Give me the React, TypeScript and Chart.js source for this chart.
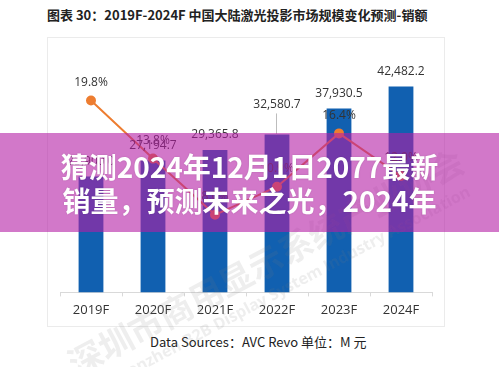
import React, { useEffect, useRef } from 'react';
import { Chart, registerables } from 'chart.js';

Chart.register(...registerables);

const categories = ['2019F', '2020F', '2021F', '2022F', '2023F', '2024F'];
const salesValues = [23900.0, 27194.7, 29365.8, 32580.7, 37930.5, 42482.2];
const growthRates = [19.8, 13.8, 8.0, 10.9, 16.4, 12.0];
const titleText = '图表 30：2019F-2024F 中国大陆激光投影市场规模变化预测-销额';
const sourceText = 'Data Sources：AVC Revo 单位：M 元';
const bannerLines = ['猜测2024年12月1日2077最新', '销量，预测未来之光，2024年'];
const watermarkCn = '深圳市商用显示系统产业协会';
const watermarkEn = 'Shenzhen B2B Display System Industry Association';

const FONT = '"Open Sans", "Noto Sans CJK SC", sans-serif';

const labelPlugin = {
  id: 'valueLabels',
  afterDatasetsDraw(chart: any) {
    const ctx = chart.ctx;
    ctx.save();
    ctx.font = '12px ' + FONT;
    ctx.fillStyle = '#333333';
    ctx.textAlign = 'center';
    ctx.textBaseline = 'middle';
    const barMeta = chart.getDatasetMeta(0);
    barMeta.data.forEach((el: any, i: number) => {
      const raised = i === 3;
      const y = el.y - (raised ? 30 : 15);
      if (raised) {
        ctx.strokeStyle = '#bdbdbd';
        ctx.lineWidth = 1;
        ctx.beginPath();
        ctx.moveTo(el.x - 0.5, y + 9);
        ctx.lineTo(el.x - 0.5, el.y);
        ctx.stroke();
      }
      const txt = salesValues[i].toLocaleString('en-US', { minimumFractionDigits: 1, maximumFractionDigits: 1 });
      ctx.fillText(txt, el.x, y);
    });
    const lineMeta = chart.getDatasetMeta(1);
    lineMeta.data.forEach((el: any, i: number) => {
      ctx.fillText(growthRates[i].toFixed(1) + '%', el.x, el.y - 18);
    });
    ctx.restore();
  },
};

export default function App() {
  const canvasRef = useRef<HTMLCanvasElement | null>(null);

  useEffect(() => {
    document.body.style.margin = '0';
    const canvas = canvasRef.current;
    if (!canvas) return;
    const chart = new Chart(canvas, {
      type: 'bar',
      data: {
        labels: categories,
        datasets: [
          {
            type: 'bar',
            data: salesValues,
            backgroundColor: '#1160B0',
            yAxisID: 'y',
            order: 2,
            categoryPercentage: 0.8,
            barPercentage: 0.5,
          },
          {
            type: 'line',
            data: growthRates,
            borderColor: '#ED7D31',
            backgroundColor: '#ED7D31',
            borderWidth: 2,
            pointRadius: 4,
            pointBackgroundColor: '#ED7D31',
            pointBorderColor: '#ED7D31',
            yAxisID: 'y1',
            order: 1,
            tension: 0,
          },
        ] as any,
      },
      options: {
        animation: false,
        responsive: true,
        maintainAspectRatio: false,
        layout: { padding: { left: 12, right: 12, top: 12, bottom: 2 } },
        plugins: {
          legend: { display: false },
          tooltip: { enabled: false },
        },
        scales: {
          x: {
            grid: {
              drawOnChartArea: false,
              drawTicks: true,
              tickLength: 4,
              color: '#d9d9d9',
              offset: true,
            },
            border: { display: true, color: '#d9d9d9' },
            ticks: { color: '#333333', font: { size: 13, family: FONT }, padding: 6 },
          },
          y: { display: false, min: 0, max: 50000 },
          y1: { display: false, min: 0, max: 25 },
        },
      },
      plugins: [labelPlugin],
    });
    return () => chart.destroy();
  }, []);

  return (
    <div
      style={{
        position: 'fixed',
        left: 0,
        top: 0,
        width: 499,
        height: 367,
        background: '#ffffff',
        overflow: 'hidden',
        fontFamily: '"Noto Sans CJK SC", sans-serif',
      }}
    >
      <div
        style={{
          position: 'absolute',
          left: 47,
          top: 6,
          fontSize: 13,
          fontWeight: 700,
          color: '#222222',
          whiteSpace: 'nowrap',
          lineHeight: '18px',
        }}
      >
        {titleText}
      </div>
      <div
        style={{
          position: 'absolute',
          left: 47,
          top: 37,
          width: 398,
          height: 290,
          border: '1px solid #ebebeb',
          boxSizing: 'border-box',
        }}
      />
      <div style={{ position: 'absolute', left: 48, top: 38, width: 396, height: 288 }}>
        <canvas ref={canvasRef} />
      </div>
      <div
        style={{
          position: 'absolute',
          left: 150,
          top: 333,
          fontSize: 13,
          color: '#222222',
          whiteSpace: 'nowrap',
          lineHeight: '18px',
        }}
      >
        {sourceText}
      </div>
      <div
        style={{
          position: 'absolute',
          left: 265,
          top: 261,
          transform: 'translate(-50%, -50%) rotate(-28deg)',
          fontSize: 34,
          fontWeight: 700,
          color: 'rgba(120,120,120,0.13)',
          whiteSpace: 'nowrap',
          pointerEvents: 'none',
        }}
      >
        {watermarkCn}
      </div>
      <div
        style={{
          position: 'absolute',
          left: 290,
          top: 285,
          transform: 'translate(-50%, -50%) rotate(-28deg)',
          fontSize: 16,
          fontWeight: 700,
          fontFamily: FONT,
          color: 'rgba(120,120,120,0.13)',
          whiteSpace: 'nowrap',
          pointerEvents: 'none',
        }}
      >
        {watermarkEn}
      </div>
      <div
        style={{
          position: 'absolute',
          left: 0,
          top: 133,
          width: 499,
          height: 99,
          background: 'rgba(180, 30, 165, 0.6)',
        }}
      />
      <div
        style={{
          position: 'absolute',
          left: 0,
          top: 149,
          width: 499,
          textAlign: 'center',
          color: '#ffffff',
          fontSize: 28,
          fontWeight: 700,
          lineHeight: '34px',
          textShadow: '0 0 2px rgba(0,0,0,0.15)',
        }}
      >
        {bannerLines.map((l) => (
          <div key={l} style={{ whiteSpace: 'nowrap' }}>
            {l}
          </div>
        ))}
      </div>
    </div>
  );
}
